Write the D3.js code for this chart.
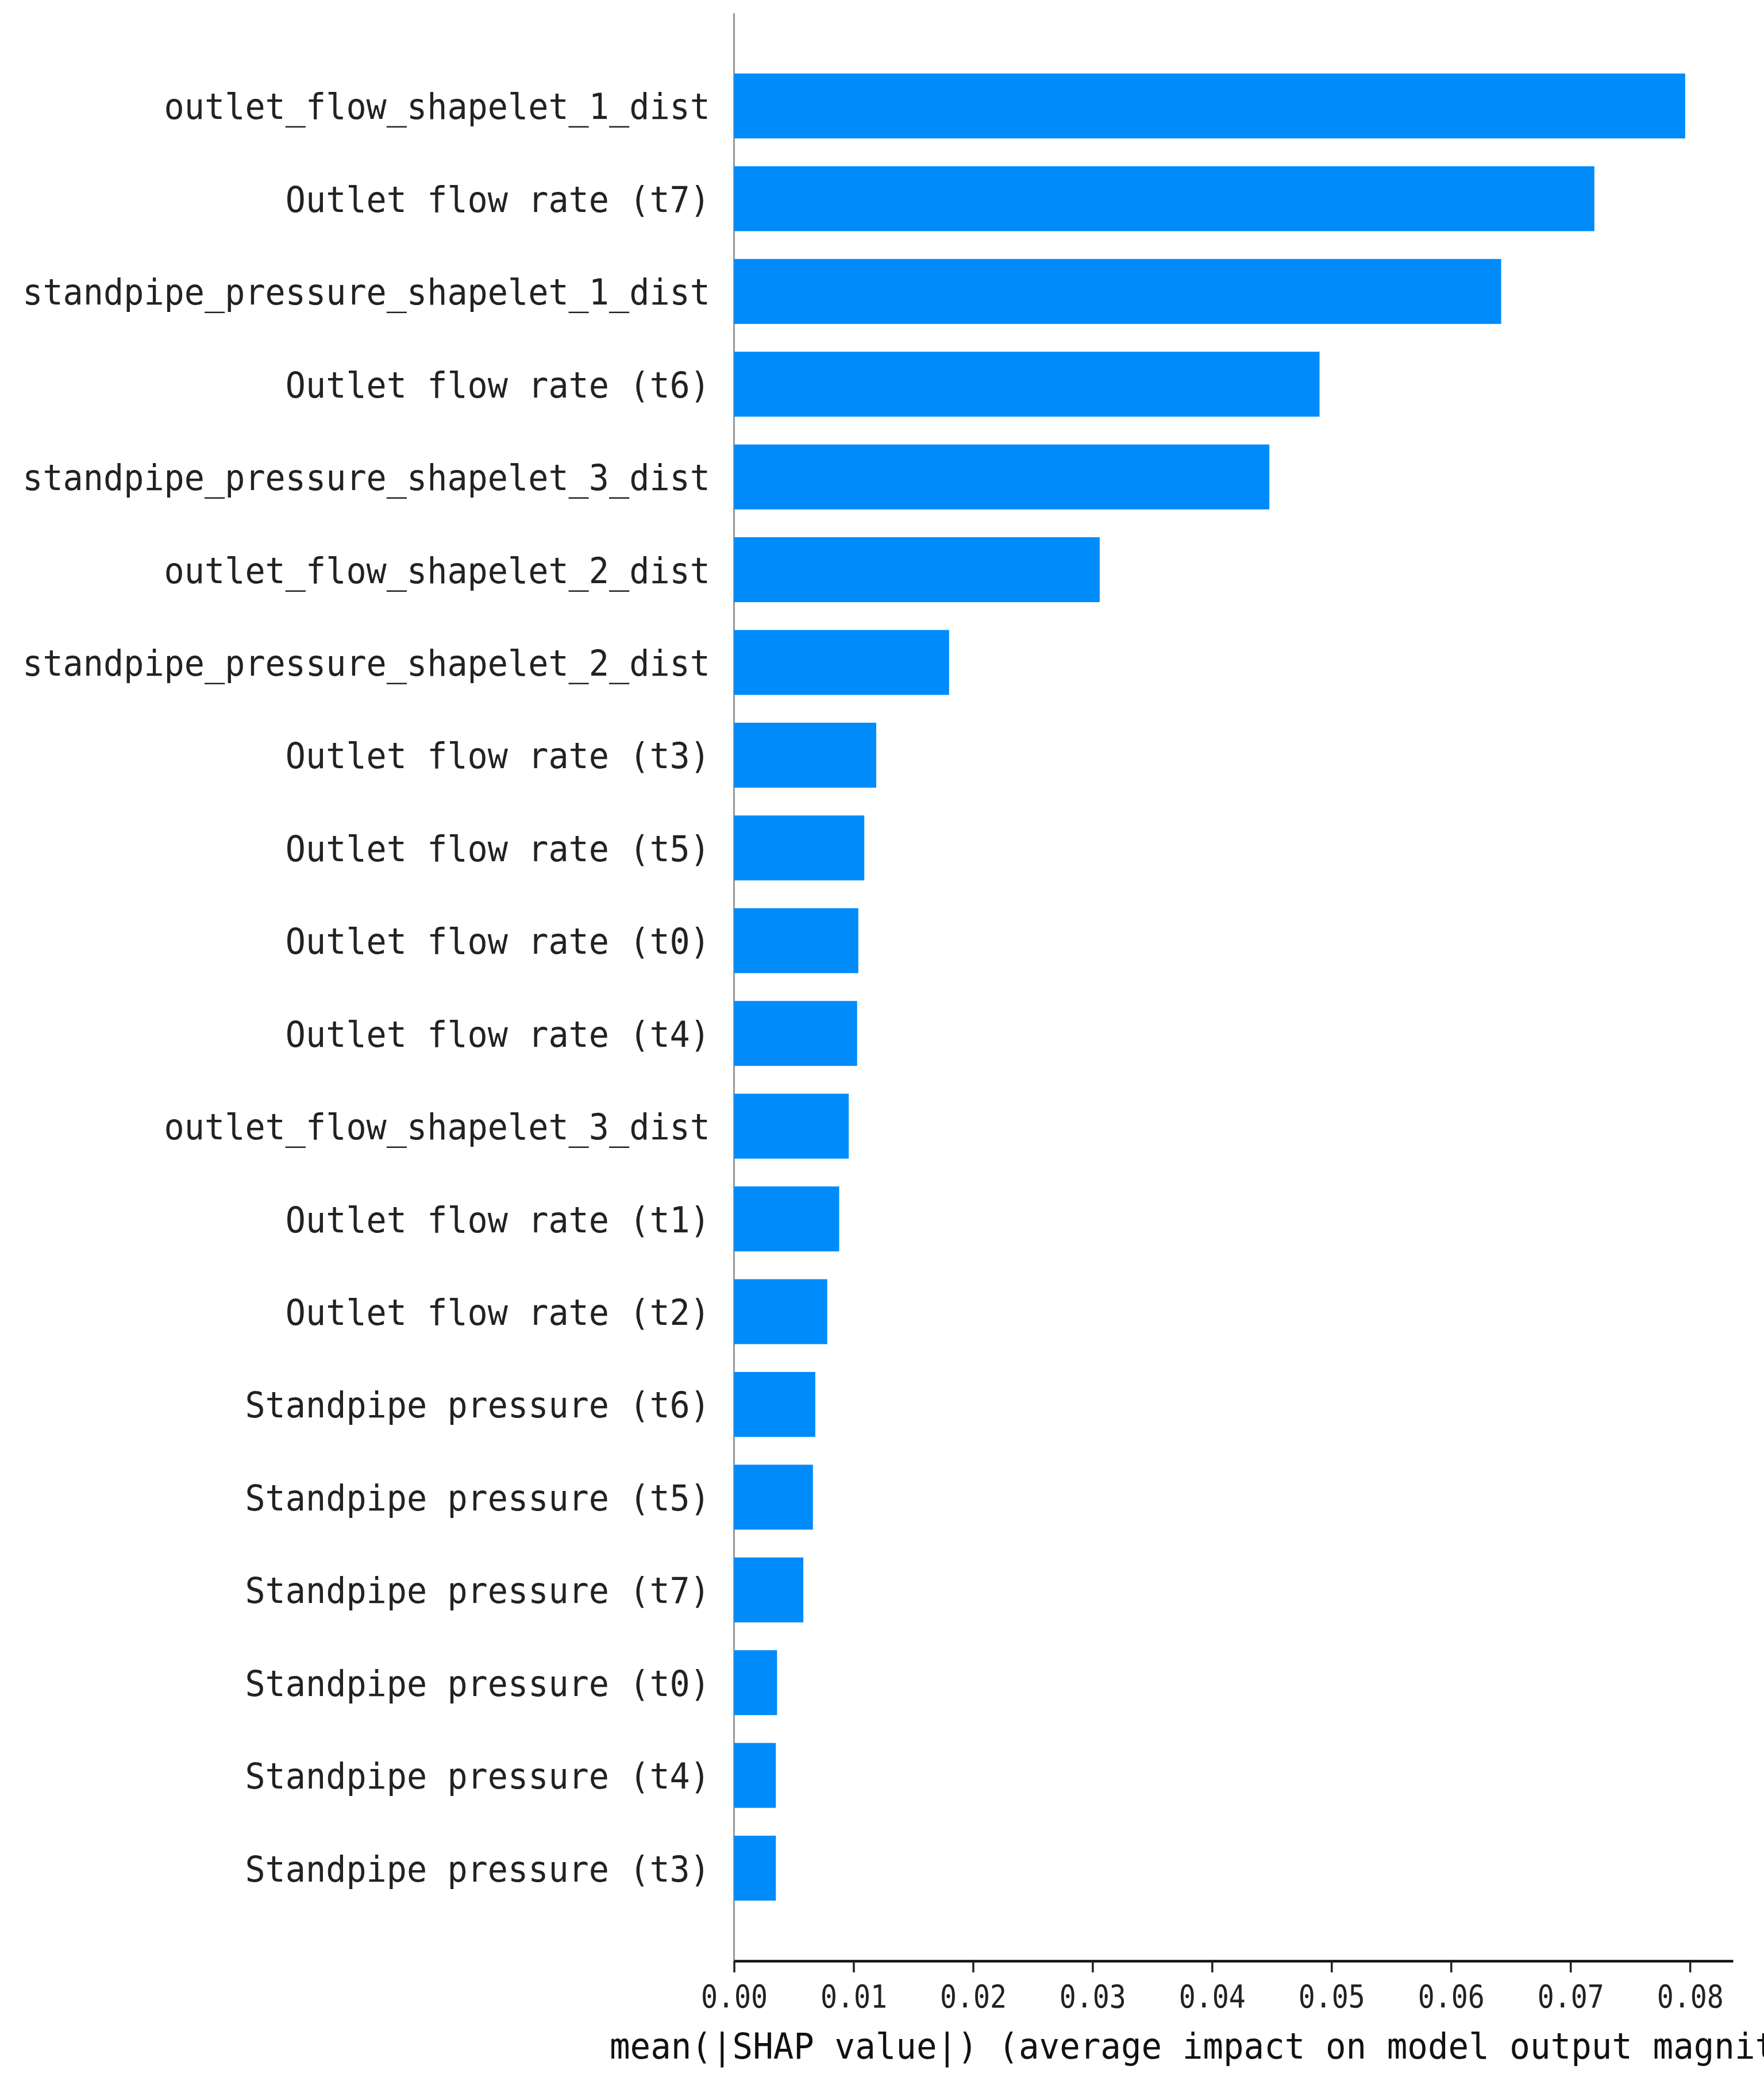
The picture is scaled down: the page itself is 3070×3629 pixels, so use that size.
<!DOCTYPE html>
<html>
<head>
<meta charset="utf-8">
<script src="https://cdn.jsdelivr.net/npm/d3@7"></script>
<style>
  html, body { margin: 0; padding: 0; background: #fff; }
  svg { display: block; }
</style>
</head>
<body>
<svg id="chart" width="3070" height="3629"></svg>
<script>
/* global d3 */

// features, top to bottom
var features = [
    'outlet_flow_shapelet_1_dist',
    'Outlet flow rate (t7)',
    'standpipe_pressure_shapelet_1_dist',
    'Outlet flow rate (t6)',
    'standpipe_pressure_shapelet_3_dist',
    'outlet_flow_shapelet_2_dist',
    'standpipe_pressure_shapelet_2_dist',
    'Outlet flow rate (t3)',
    'Outlet flow rate (t5)',
    'Outlet flow rate (t0)',
    'Outlet flow rate (t4)',
    'outlet_flow_shapelet_3_dist',
    'Outlet flow rate (t1)',
    'Outlet flow rate (t2)',
    'Standpipe pressure (t6)',
    'Standpipe pressure (t5)',
    'Standpipe pressure (t7)',
    'Standpipe pressure (t0)',
    'Standpipe pressure (t4)',
    'Standpipe pressure (t3)'
]

// mean(|SHAP value|)
var meanShap = [
    0.0796, 0.0720, 0.0642, 0.0490, 0.0448,
    0.0306, 0.0180, 0.0119, 0.0109, 0.0104,
    0.0103, 0.0096, 0.0088, 0.0078, 0.0068,
    0.0066, 0.0058, 0.0036, 0.0035, 0.0035
]

var xTicks = [0, 0.01, 0.02, 0.03, 0.04, 0.05, 0.06, 0.07, 0.08]
var xTitle = 'mean(|SHAP value|) (average impact on model output magnitude)'

var blue = '#008bfb'
var fontFam = '"DejaVu Sans Mono", "Liberation Mono", monospace'

var svg = d3.select('#chart')

var plot = { left: 1277.5, right: 3016, top: 23, bottom: 3413 }

var xScale = d3.scaleLinear()
               .domain([0, 0.0836])
               .range([plot.left, plot.right])

// bar i sits at index i, one empty step above and below
var yScale = d3.scaleLinear()
               .domain([-1, features.length])
               .range([plot.top, plot.bottom])

var step = yScale(1) - yScale(0)
var barH = step * 0.7

// zero line, behind bars
svg.append('line')
   .attr('x1', xScale(0))
   .attr('x2', xScale(0))
   .attr('y1', plot.top)
   .attr('y2', plot.bottom)
   .attr('stroke', '#999999')
   .attr('stroke-width', 3)

svg.append('g')
   .selectAll('rect')
   .data(meanShap)
   .enter()
   .append('rect')
   .attr('x', xScale(0))
   .attr('y', function (d, i) { return yScale(i) - barH / 2 })
   .attr('width', function (d) { return xScale(d) - xScale(0) })
   .attr('height', barH)
   .attr('fill', blue)

// feature names
var charW = 35.2
svg.append('g')
   .selectAll('text')
   .data(features)
   .enter()
   .append('text')
   .attr('x', 1236)
   .attr('y', function (d, i) { return yScale(i) + 23 })
   .attr('text-anchor', 'end')
   .attr('font-family', fontFam)
   .attr('font-size', 63)
   .attr('fill', '#222')
   .attr('textLength', function (d) { return d.length * charW })
   .attr('lengthAdjust', 'spacingAndGlyphs')
   .text(function (d) { return d })

// x axis
var xAxis = d3.axisBottom(xScale)
              .tickValues(xTicks)
              .tickFormat(d3.format('.2f'))
              .tickSizeOuter(0)
              .tickSizeInner(20)
              .tickPadding(22)

var gx = svg.append('g')
            .attr('transform', 'translate(0,' + plot.bottom + ')')
            .call(xAxis)

gx.select('.domain')
  .attr('stroke', '#111')
  .attr('stroke-width', 4.5)
gx.selectAll('.tick line')
  .attr('stroke', '#222')
  .attr('stroke-width', 3.5)
gx.selectAll('.tick text')
  .attr('font-family', fontFam)
  .attr('font-size', 55)
  .attr('fill', '#222')
  .attr('textLength', 116)
  .attr('lengthAdjust', 'spacingAndGlyphs')

// title is wider than the figure, so it runs off the right edge as in the original
svg.append('text')
   .attr('x', (plot.left + plot.right) / 2)
   .attr('y', 3583)
   .attr('text-anchor', 'middle')
   .attr('font-family', fontFam)
   .attr('font-size', 63)
   .attr('fill', '#111')
   .attr('textLength', xTitle.length * 35.6)
   .attr('lengthAdjust', 'spacingAndGlyphs')
   .text(xTitle)
</script>
</body>
</html>
